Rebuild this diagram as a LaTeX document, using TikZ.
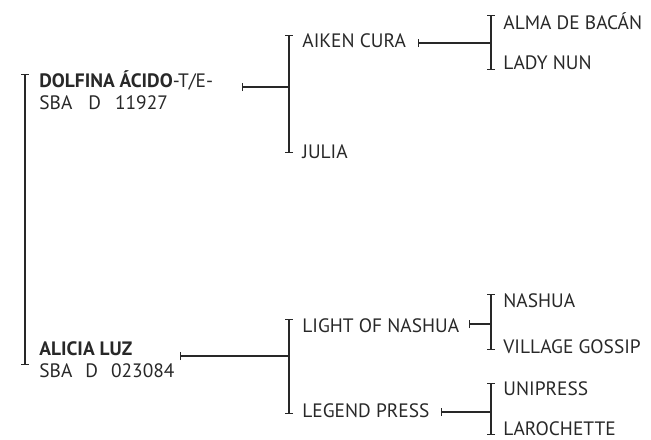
\documentclass[tikz,border=0pt]{standalone}
\usepackage{fontspec}
\setmainfont{PT Sans}
\definecolor{PedInk}{RGB}{40, 40, 40}
\usetikzlibrary{arrows.meta}

\begin{document}
\begin{tikzpicture}[x=0.5pt, y=-0.5pt,
    horse/.style={anchor=base west, inner sep=0pt, font=\fontsize{9.7}{11}\selectfont, text=PedInk},
    bracket/.style={draw=PedInk, line width=0.6pt, {Bar[width=4pt]}-{Bar[width=4pt]}},
    link/.style={draw=PedInk, line width=0.6pt, {Bar[width=4pt]}-}]
  \useasboundingbox (0,0) rectangle (651,439);

  % first generation
  \node[horse] (dolfina) at (39,87) {\textbf{DOLFINA ÁCIDO}-T/E-};
  \node[horse] (dolfinareg) at (39,109) {SBA\hspace{8pt}D\hspace{7pt}11927};
  \node[horse] (alicia) at (39,355) {\textbf{ALICIA LUZ}};
  \node[horse] (aliciareg) at (39,377) {SBA\hspace{6.5pt}D\hspace{6.5pt}023084};

  % second and third generation
  \foreach \name/\txt/\xpos/\ypos in {aiken/AIKEN CURA/302/47, julia/JULIA/302/158,
      light/LIGHT OF NASHUA/302/332, legend/LEGEND PRESS/302/417,
      alma/ALMA DE BACÁN/503/29, lady/LADY NUN/503/69,
      nashua/NASHUA/503/307, village/VILLAGE GOSSIP/503/353,
      unipress/UNIPRESS/503/395, larochette/LAROCHETTE/503/435} {
    \node[horse] (\name) at (\xpos,\ypos) {\txt};
  }

  % bracket ends
  \coordinate (sireT) at (25,74);   \coordinate (sireB) at (25,365);
  \coordinate (topT) at (289,35);   \coordinate (topB) at (289,153);
  \coordinate (botT) at (289,319);  \coordinate (botB) at (289,414);
  \coordinate (aikT) at (491,15);   \coordinate (aikB) at (491,70);
  \coordinate (ligT) at (491,294);  \coordinate (ligB) at (491,350);
  \coordinate (legT) at (491,383);  \coordinate (legB) at (491,435);
  \foreach \a/\b in {sireT/sireB, topT/topB, botT/botB, aikT/aikB, ligT/ligB, legT/legB}
    \draw[bracket] (\a) -- (\b);

  % connectors
  \coordinate (dolfinaL) at (242,87);
  \coordinate (aliciaL) at (180,356);
  \coordinate (aikenL) at (418,43);
  \coordinate (lightL) at (469,324);
  \coordinate (legendL) at (441,412);
  \draw[link] (dolfinaL) -- (dolfinaL -| topT);
  \draw[link] (aliciaL) -- (aliciaL -| botT);
  \draw[link] (aikenL) -- (aikenL -| aikT);
  \draw[link] (lightL) -- (lightL -| ligT);
  \draw[link] (legendL) -- (legendL -| legT);
\end{tikzpicture}
\end{document}
